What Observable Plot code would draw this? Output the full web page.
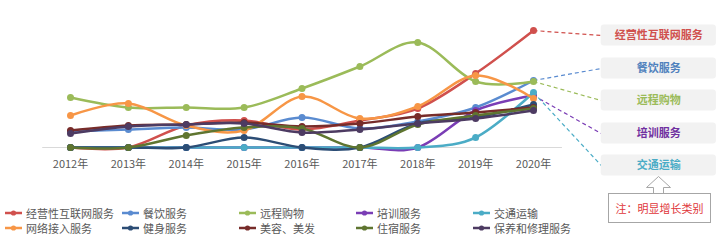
<!DOCTYPE html>
<html>
<head>
<meta charset="utf-8">
<script src="https://cdn.jsdelivr.net/npm/d3@7"></script>
<script src="https://cdn.jsdelivr.net/npm/@observablehq/plot@0.6"></script>
<style>
  body { margin: 0; background: #fff; font-family: "Noto Sans CJK SC", "Noto Sans", sans-serif; }
  #wrap { width: 718px; }
  #below { position: relative; width: 718px; height: 63px; }
  .legend { position: absolute; left: 5px; top: 28px; display: grid;
            grid-template-columns: repeat(5, 117px); grid-auto-rows: 15px;
            font-size: 11px; color: #595959; }
  .item { display: flex; align-items: center; white-space: nowrap; }
  .item svg { margin-right: 2px; flex: none; }
  .note { position: absolute; left: 608px; top: 16px; width: 101px; height: 28px;
          border: 1px solid #a6a6a6; background: #fff; color: #e0363a;
          font-size: 11px; display: flex; align-items: center; justify-content: center; }
  .arrow { position: absolute; left: 0; top: -1px; overflow: visible; }
</style>
</head>
<body>
<div id="wrap">
  <div id="chart"></div>
  <div id="below"></div>
</div>
<script>
// Years on the horizontal axis
const years = [2012, 2013, 2014, 2015, 2016, 2017, 2018, 2019, 2020];

// Index values per service category, 2012–2020
const internetOps  = [0, 0, 2.2, 2.7, 1.8, 2.7, 3.9, 7.4, 11.7]; // 经营性互联网服务
const catering     = [1.6, 1.8, 2.0, 1.8, 3.0, 1.9, 2.6, 4.0, 6.7]; // 餐饮服务
const remoteShop   = [5.0, 4.0, 4.0, 4.0, 5.9, 8.1, 10.5, 6.6, 6.6]; // 远程购物
const training     = [0, 0, 0, 0, 0, 0, 0, 3.7, 5.2];              // 培训服务
const transport    = [0, 0, 0, 0, 0, 0, 0, 1.0, 5.5];              // 交通运输
const netAccess    = [3.2, 4.4, 2.2, 1.7, 5.1, 2.9, 4.1, 7.2, 4.9]; // 网络接入服务
const fitness      = [0, 0, 0, 1.0, 0, 0, 2.4, 3.0, 4.3];          // 健身服务
const beauty       = [1.7, 2.2, 2.3, 2.5, 2.1, 2.4, 3.1, 3.5, 4.0]; // 美容、美发
const lodging      = [0, 0, 1.2, 2.0, 1.9, 0, 2.3, 3.2, 3.9];      // 住宿服务
const maintenance  = [1.4, 2.1, 2.3, 2.4, 1.5, 1.8, 2.4, 2.9, 3.7]; // 保养和修理服务

const seriesNames = ["经营性互联网服务", "餐饮服务", "远程购物", "培训服务", "交通运输",
                     "网络接入服务", "健身服务", "美容、美发", "住宿服务", "保养和修理服务"];
const seriesValues = [internetOps, catering, remoteShop, training, transport,
                      netAccess, fitness, beauty, lodging, maintenance];

// Categories with clear growth, called out on the right
const highlighted = ["经营性互联网服务", "餐饮服务", "远程购物", "培训服务", "交通运输"];
const noteText = "注：明显增长类别";

// ---- styling ----
const palette = {
  "经营性互联网服务": "#d0504d", "餐饮服务": "#5a8bd0", "远程购物": "#9bbb59",
  "培训服务": "#7a3db5", "交通运输": "#4bacc6", "网络接入服务": "#f79646",
  "健身服务": "#2c4d75", "美容、美发": "#772c2a", "住宿服务": "#5f7530",
  "保养和修理服务": "#4d3b62"
};
const labelColor = {
  "经营性互联网服务": "#d0504d", "餐饮服务": "#4f81bd", "远程购物": "#9bbb59",
  "培训服务": "#7030a0", "交通运输": "#4bacc6"
};

const rows = seriesNames.flatMap((name, i) =>
  seriesValues[i].map((value, j) => ({name, year: years[j], value, color: palette[name]})));

// callout box placement (x in year units, y in value units)
const boxX1 = 2021.17, boxX2 = 2023.16, boxHalf = 1.05;
const boxY = [11.2, 7.9, 4.7, 1.4, -1.8];
const callouts = highlighted.map((name, i) => ({
  name, y: boxY[i],
  last: seriesValues[seriesNames.indexOf(name)][years.length - 1],
  color: palette[name], text: labelColor[name]
}));

const seriesMarks = seriesNames.flatMap(name => {
  const data = rows.filter(d => d.name === name);
  return [
    Plot.line(data, {x: "year", y: "value", stroke: "color", strokeWidth: 2.5,
                     curve: "cardinal", tension: 0}),
    Plot.dot(data, {x: "year", y: "value", fill: "color", r: 3.5, stroke: "none"})
  ];
});

const chart = Plot.plot({
  width: 718, height: 177,
  marginTop: 0, marginLeft: 0, marginRight: 0, marginBottom: 30,
  x: {domain: [2012, 2020], range: [70, 533]},
  y: {domain: [0, 12], range: [147, 27], axis: null},
  color: {type: "identity"},
  style: {fontFamily: '"Noto Sans CJK SC", "Noto Sans", sans-serif', fontSize: "11px",
          color: "#595959", background: "transparent", overflow: "visible"},
  marks: [
    Plot.ruleY([0], {x1: 2011.52, x2: 2020.5, stroke: "#d9d9d9", strokeWidth: 1}),
    Plot.axisX(years, {tickSize: 0, tickPadding: 13, tickFormat: d => `${d}年`,
                       fill: "#595959", fontSize: 11, label: null}),
    Plot.link(callouts, {x1: 2020, y1: "last", x2: boxX1, y2: "y", stroke: "color",
                         strokeWidth: 1.2, strokeDasharray: "4,3"}),
    ...seriesMarks,
    Plot.rect(callouts, {x1: boxX1, x2: boxX2, y1: d => d.y - boxHalf, y2: d => d.y + boxHalf,
                         fill: "#f2f2f2", rx: 3}),
    Plot.text(callouts, {x: (boxX1 + boxX2) / 2, y: "y", text: "name", fill: "text",
                         fontWeight: "bold", fontSize: 11})
  ]
});
document.getElementById("chart").append(chart);

// ---- legend and note below the plot ----
const below = d3.select("#below");
const legend = below.append("div").attr("class", "legend");
seriesNames.forEach(name => {
  const item = legend.append("div").attr("class", "item");
  const sw = item.append("svg").attr("width", 19).attr("height", 8);
  sw.append("line").attr("x1", 0).attr("x2", 17).attr("y1", 4).attr("y2", 4)
    .attr("stroke", palette[name]).attr("stroke-width", 2.5);
  sw.append("circle").attr("cx", 8.5).attr("cy", 4).attr("r", 2.6).attr("fill", palette[name]);
  item.append("span").text(name);
});

const arrow = below.append("svg").attr("class", "arrow").attr("width", 718).attr("height", 20);
arrow.append("path")
  .attr("d", "M658.5,0.5 L646.5,11.5 L653.5,11.5 L653.5,17.5 L663.5,17.5 L663.5,11.5 L670.5,11.5 Z")
  .attr("fill", "#fff").attr("stroke", "#a6a6a6").attr("stroke-width", 1);
below.append("div").attr("class", "note").text(noteText);
</script>
</body>
</html>
